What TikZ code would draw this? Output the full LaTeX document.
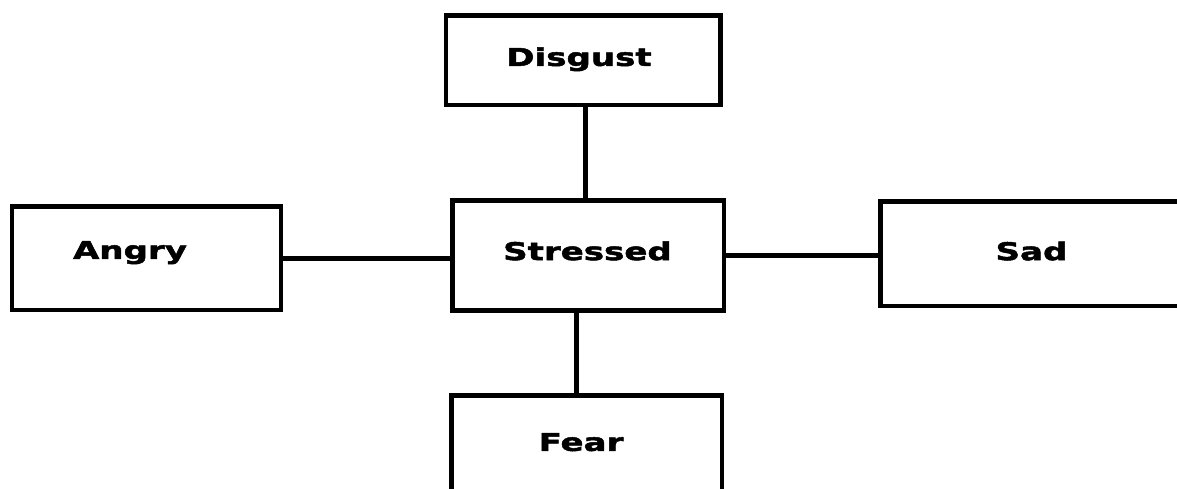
\documentclass[tikz,border=0pt]{standalone}
\usepackage{fontspec}
\newfontfamily\boxfont{DejaVu Sans Bold}[FakeStretch=1.39,FakeBold=2]
\begin{document}
\begin{tikzpicture}[x=1pt,y=-1pt,
  emobox/.style={draw=black,line width=4.3pt,inner sep=0pt,rectangle,fill=white},
  emolabel/.style={anchor=center,font=\boxfont\fontsize{24.5}{29}\selectfont,inner sep=0pt,text height=17.8pt,text depth=0pt},
  link/.style={draw=black,line width=4.5pt}]
\useasboundingbox (0,0) rectangle (1177,488);
\clip (0,0) rectangle (1177,488);
\node[emobox,minimum width=274.5pt,minimum height=89.5pt,
  label={[emolabel,xshift=-4.25pt,yshift=3.25pt]center:Disgust}] (dis) at (583.25,60.25) {};
\node[emobox,minimum width=269pt,minimum height=103.5pt,
  label={[emolabel,xshift=-16.5pt,yshift=8.25pt]center:Angry}] (ang) at (146.5,258.25) {};
\node[emobox,minimum width=271.5pt,minimum height=110pt,
  label={[emolabel,xshift=-0.75pt,yshift=4.3pt]center:Stressed}] (str) at (588.25,255.5) {};
\node[emobox,minimum width=309pt,minimum height=104.5pt,
  label={[emolabel,xshift=-3.5pt,yshift=2.5pt]center:Sad}] (sad) at (1035,253.75) {};
\node[emobox,minimum width=270.5pt,minimum height=104.5pt,
  label={[emolabel,xshift=-5.75pt,yshift=5.75pt]center:Fear}] (fear) at (586.75,447.75) {};
\draw[link] ([xshift=2.25pt]dis.south) -- ([xshift=2.25pt]dis.south |- str.north);
\draw[link] (ang.east) -- (ang.east -| str.west);
\draw[link] (str.east) -- (str.east -| sad.west);
\draw[link] ([xshift=-10.25pt]fear.north) -- ([xshift=-10.25pt]fear.north |- str.south);
\end{tikzpicture}
\end{document}
